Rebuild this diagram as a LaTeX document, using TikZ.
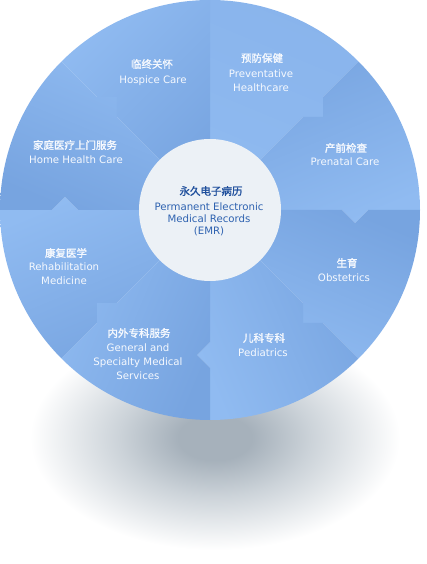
\documentclass[tikz,border=0pt]{standalone}
\usepackage{fontspec}
\newfontfamily\lat{DejaVu Sans}
\newfontfamily\cjk{Noto Sans CJK SC}[FakeBold=1.5]
\definecolor{segL}{HTML}{90BBF1}
\definecolor{segD}{HTML}{77A4E0}
\definecolor{prevA}{HTML}{8FBAF0}
\definecolor{prevB}{HTML}{89B4EC}
\definecolor{hub}{HTML}{ECF1F6}
\definecolor{hubcn}{HTML}{1F4F9C}
\definecolor{hubtx}{HTML}{2E62B0}
\definecolor{txt}{HTML}{F6F9FE}
\definecolor{sh1}{HTML}{A6B1BB}
\definecolor{sh2}{HTML}{CCD3D9}
\pgfdeclareradialshading{shadowsh}{\pgfpoint{0bp}{0bp}}{color(0bp)=(sh1); color(5bp)=(sh1); color(13bp)=(sh2); color(25bp)=(white); color(50bp)=(white)}
\begin{document}
\begin{tikzpicture}[x=1pt,y=1pt,
  seg/.style={shade, top color=segD, bottom color=segL, shading angle=#1},
  cn/.style={text=txt, font=\cjk\fontsize{10.5}{12}\selectfont, inner sep=0pt},
  en/.style={text=txt, font=\lat\fontsize{10.2}{14}\selectfont, align=center, inner sep=0pt},
  hcn/.style={text=hubcn, font=\cjk\fontsize{10.5}{12}\selectfont, inner sep=0pt},
  hen/.style={text=hubtx, font=\lat\fontsize{10.2}{12}\selectfont, align=center, inner sep=0pt}]
\fill[white] (-210,-354) rectangle (217,210);
\useasboundingbox (-210,-354) rectangle (217,210);
% shadow
\shade[shading=shadowsh] (5,-228) ellipse[x radius=185pt, y radius=112pt];
% sectors
% Preventative
\shade[top color=prevB, bottom color=prevA, shading angle=-22.5]
  (0,0) -- (0,210) arc[start angle=90, end angle=45, radius=210pt]
  -- (113,113) -- (113,93) -- (93,93) -- cycle;
% Prenatal
\shade[seg=22.5]
  (0,0) -- (93,93) -- (113,93) -- (113,113) -- (45:210)
  arc[start angle=45, end angle=0, radius=210pt]
  -- (158,0) -- (145,-13) -- (132,0) -- cycle;
% Obstetrics
\shade[seg=-22.5]
  (0,0) -- (132,0) -- (145,-13) -- (158,0) -- (210,0)
  arc[start angle=0, end angle=-45, radius=210pt]
  -- (113,-113) -- (93,-113) -- (93,-93) -- cycle;
% Pediatrics
\shade[seg=-67.5]
  (0,0) -- (93,-93) -- (93,-113) -- (113,-113) -- (-45:210)
  arc[start angle=-45, end angle=-90, radius=210pt]
  -- (0,-158) -- (-13,-145) -- (0,-132) -- cycle;
% General
\shade[seg=-112.5]
  (0,0) -- (0,-132) -- (-13,-145) -- (0,-158) -- (0,-210)
  arc[start angle=-90, end angle=-135, radius=210pt]
  -- (-113,-113) -- (-113,-93) -- (-93,-93) -- cycle;
% Rehabilitation
\shade[seg=-157.5]
  (0,0) -- (-93,-93) -- (-113,-93) -- (-113,-113) -- (-135:210)
  arc[start angle=-135, end angle=-180, radius=210pt]
  -- (-158,0) -- (-145,13) -- (-132,0) -- cycle;
% Home
\shade[seg=157.5]
  (0,0) -- (-132,0) -- (-145,13) -- (-158,0) -- (-210,0)
  arc[start angle=180, end angle=135, radius=210pt]
  -- (-113,113) -- (-93,113) -- (-93,93) -- cycle;
% Hospice
\shade[seg=-135]
  (0,0) -- (-93,93) -- (-93,113) -- (-113,113) -- (135:210)
  arc[start angle=135, end angle=90, radius=210pt] -- cycle;
% hub
\fill[hub] (0,0) circle[radius=71pt];
% texts
\node[cn] (hoscn) at (-58,146) {临终关怀};
\node[en] (hosen) at (-57,129) {Hospice Care};
\node[cn] (precn) at (52,152) {预防保健};
\node[en] (preen) at (51,129) {Preventative\\Healthcare};
\node[cn] (homcn) at (-135,65) {家庭医疗上门服务};
\node[en] (homen) at (-134,50) {Home Health Care};
\node[cn] (prncn) at (136,62) {产前检查};
\node[en] (prnen) at (135,48) {Prenatal Care};
\node[cn] (obscn) at (137,-53) {生育};
\node[en] (obsen) at (134,-68) {Obstetrics};
\node[cn] (pedcn) at (54,-128) {儿科专科};
\node[en] (peden) at (53,-143) {Pediatrics};
\node[cn] (gencn) at (-71,-123) {内外专科服务};
\node[en] (genen) at (-72,-152) {General and\\Specialty Medical\\Services};
\node[cn] (rehcn) at (-144,-43) {康复医学};
\node[en] (rehen) at (-146,-64) {Rehabilitation\\Medicine};
\node[hcn] (hubcnn) at (1,19) {永久电子病历};
\node[hen] (hubenn) at (-1,-9) {Permanent Electronic\\Medical Records\\(EMR)};
\end{tikzpicture}
\end{document}
